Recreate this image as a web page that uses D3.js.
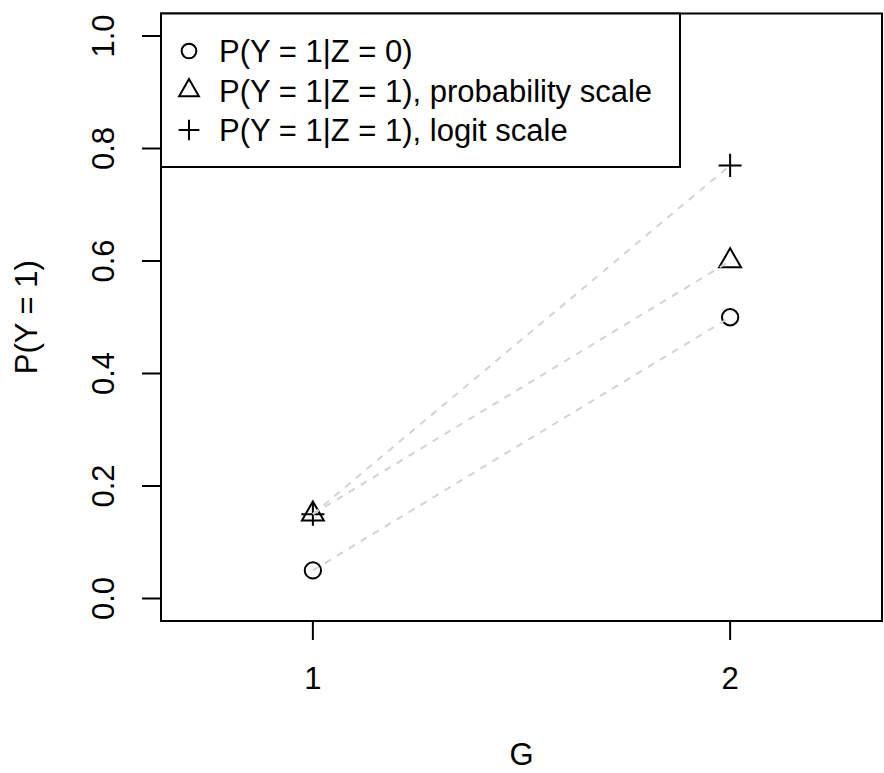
<!DOCTYPE html>
<html>
<head>
<meta charset="utf-8">
<script src="https://cdn.jsdelivr.net/npm/d3@7"></script>
<style>
  html, body { margin: 0; padding: 0; background: #fff; }
  svg { display: block; }
  text { font-family: "Liberation Sans", Arial, sans-serif; fill: #000; }
</style>
</head>
<body>
<script>
// ---- data ----
const groups = [1, 2];
const pZ0 = [0.05, 0.5];
const pZ1prob = [0.15, 0.6];
const pZ1logit = [0.15, 0.77];
const yTicks = [0, 0.2, 0.4, 0.6, 0.8, 1.0];
const yTickLabels = ["0.0", "0.2", "0.4", "0.6", "0.8", "1.0"];
const xTicks = [1, 2];
const xTickLabels = ["1", "2"];
const legendLabels = ["P(Y = 1|Z = 0)", "P(Y = 1|Z = 1), probability scale", "P(Y = 1|Z = 1), logit scale"];
const legendShapes = ["circle", "triangle", "plus"];

// ---- layout ----
const W = 884, H = 773;
const L = 161, R = 882, T = 13.5, B = 621;
const FS = 31;

const svg = d3.select("body").append("svg").attr("width", W).attr("height", H);

const x = d3.scaleLinear().domain([0.636, 2.364]).range([L, R]);
const y = d3.scaleLinear().domain([-0.04, 1.04]).range([B, T]);

// marker shapes (R-style)
const S = 21.7;
const RAD = 0.375 * S;
function drawMarker(g, shape, cx, cy, k) {
  const rad = RAD * (k || 1);
  if (shape === "circle") {
    g.append("circle").attr("cx", cx).attr("cy", cy).attr("r", rad)
      .attr("fill", "none").attr("stroke", "#000").attr("stroke-width", 2);
  } else if (shape === "triangle") {
    const r = Math.sqrt(4 * Math.PI / (3 * Math.sqrt(3))) * rad;
    const xc = r * Math.sqrt(3) / 2, yc = r / 2;
    g.append("path")
      .attr("d", `M${cx},${cy - r}L${cx + xc},${cy + yc}L${cx - xc},${cy + yc}Z`)
      .attr("fill", "none").attr("stroke", "#000").attr("stroke-width", 2);
  } else {
    const h = Math.SQRT2 * rad;
    g.append("path")
      .attr("d", `M${cx - h},${cy}H${cx + h}M${cx},${cy - h}V${cy + h}`)
      .attr("fill", "none").attr("stroke", "#000").attr("stroke-width", 2);
  }
}

// points
const pts = svg.append("g");
const series = [
  { vals: pZ0, shape: "circle" },
  { vals: pZ1prob, shape: "triangle" },
  { vals: pZ1logit, shape: "plus" }
];
series.forEach(s => {
  groups.forEach((gv, i) => drawMarker(pts, s.shape, x(gv), y(s.vals[i])));
});

// dashed connecting lines (drawn over the points)
const line = d3.line().x((d, i) => x(groups[i])).y(d => y(d));
series.forEach(s => {
  svg.append("path").attr("d", line(s.vals))
    .attr("fill", "none").attr("stroke", "#d3d3d3")
    .attr("stroke-width", 2).attr("stroke-dasharray", "7,7");
});

// box
svg.append("rect").attr("x", L).attr("y", T).attr("width", R - L).attr("height", B - T)
  .attr("fill", "none").attr("stroke", "#000").attr("stroke-width", 2);

// y axis
const ya = svg.append("g");
ya.append("line").attr("x1", L).attr("x2", L).attr("y1", y(0)).attr("y2", y(1))
  .attr("stroke", "#000").attr("stroke-width", 2);
yTicks.forEach((t, i) => {
  ya.append("line").attr("x1", L - 19).attr("x2", L).attr("y1", y(t)).attr("y2", y(t))
    .attr("stroke", "#000").attr("stroke-width", 2);
  ya.append("text").attr("transform", `translate(114,${y(t)}) rotate(-90)`)
    .attr("text-anchor", "middle").attr("font-size", FS).text(yTickLabels[i]);
});

// x axis
const xa = svg.append("g");
xa.append("line").attr("x1", x(1)).attr("x2", x(2)).attr("y1", B).attr("y2", B)
  .attr("stroke", "#000").attr("stroke-width", 2);
xTicks.forEach((t, i) => {
  xa.append("line").attr("x1", x(t)).attr("x2", x(t)).attr("y1", B).attr("y2", B + 19)
    .attr("stroke", "#000").attr("stroke-width", 2);
  xa.append("text").attr("x", x(t)).attr("y", 689)
    .attr("text-anchor", "middle").attr("font-size", FS).text(xTickLabels[i]);
});

// axis titles
svg.append("text").attr("x", (L + R) / 2).attr("y", 765)
  .attr("text-anchor", "middle").attr("font-size", FS).text("G");
svg.append("text").attr("transform", `translate(37,${(T + B) / 2}) rotate(-90)`)
  .attr("text-anchor", "middle").attr("font-size", FS).text("P(Y = 1)");

// legend
const lg = svg.append("g");
lg.append("rect").attr("x", L).attr("y", T).attr("width", 680 - L).attr("height", 167 - T)
  .attr("fill", "#fff").attr("stroke", "#000").attr("stroke-width", 2);
const rowY = [51, 90.5, 130];
legendLabels.forEach((lab, i) => {
  drawMarker(lg, legendShapes[i], 189, rowY[i], 0.9);
  lg.append("text").attr("x", 219).attr("y", rowY[i] + 11)
    .attr("font-size", FS).text(lab);
});
</script>
</body>
</html>
